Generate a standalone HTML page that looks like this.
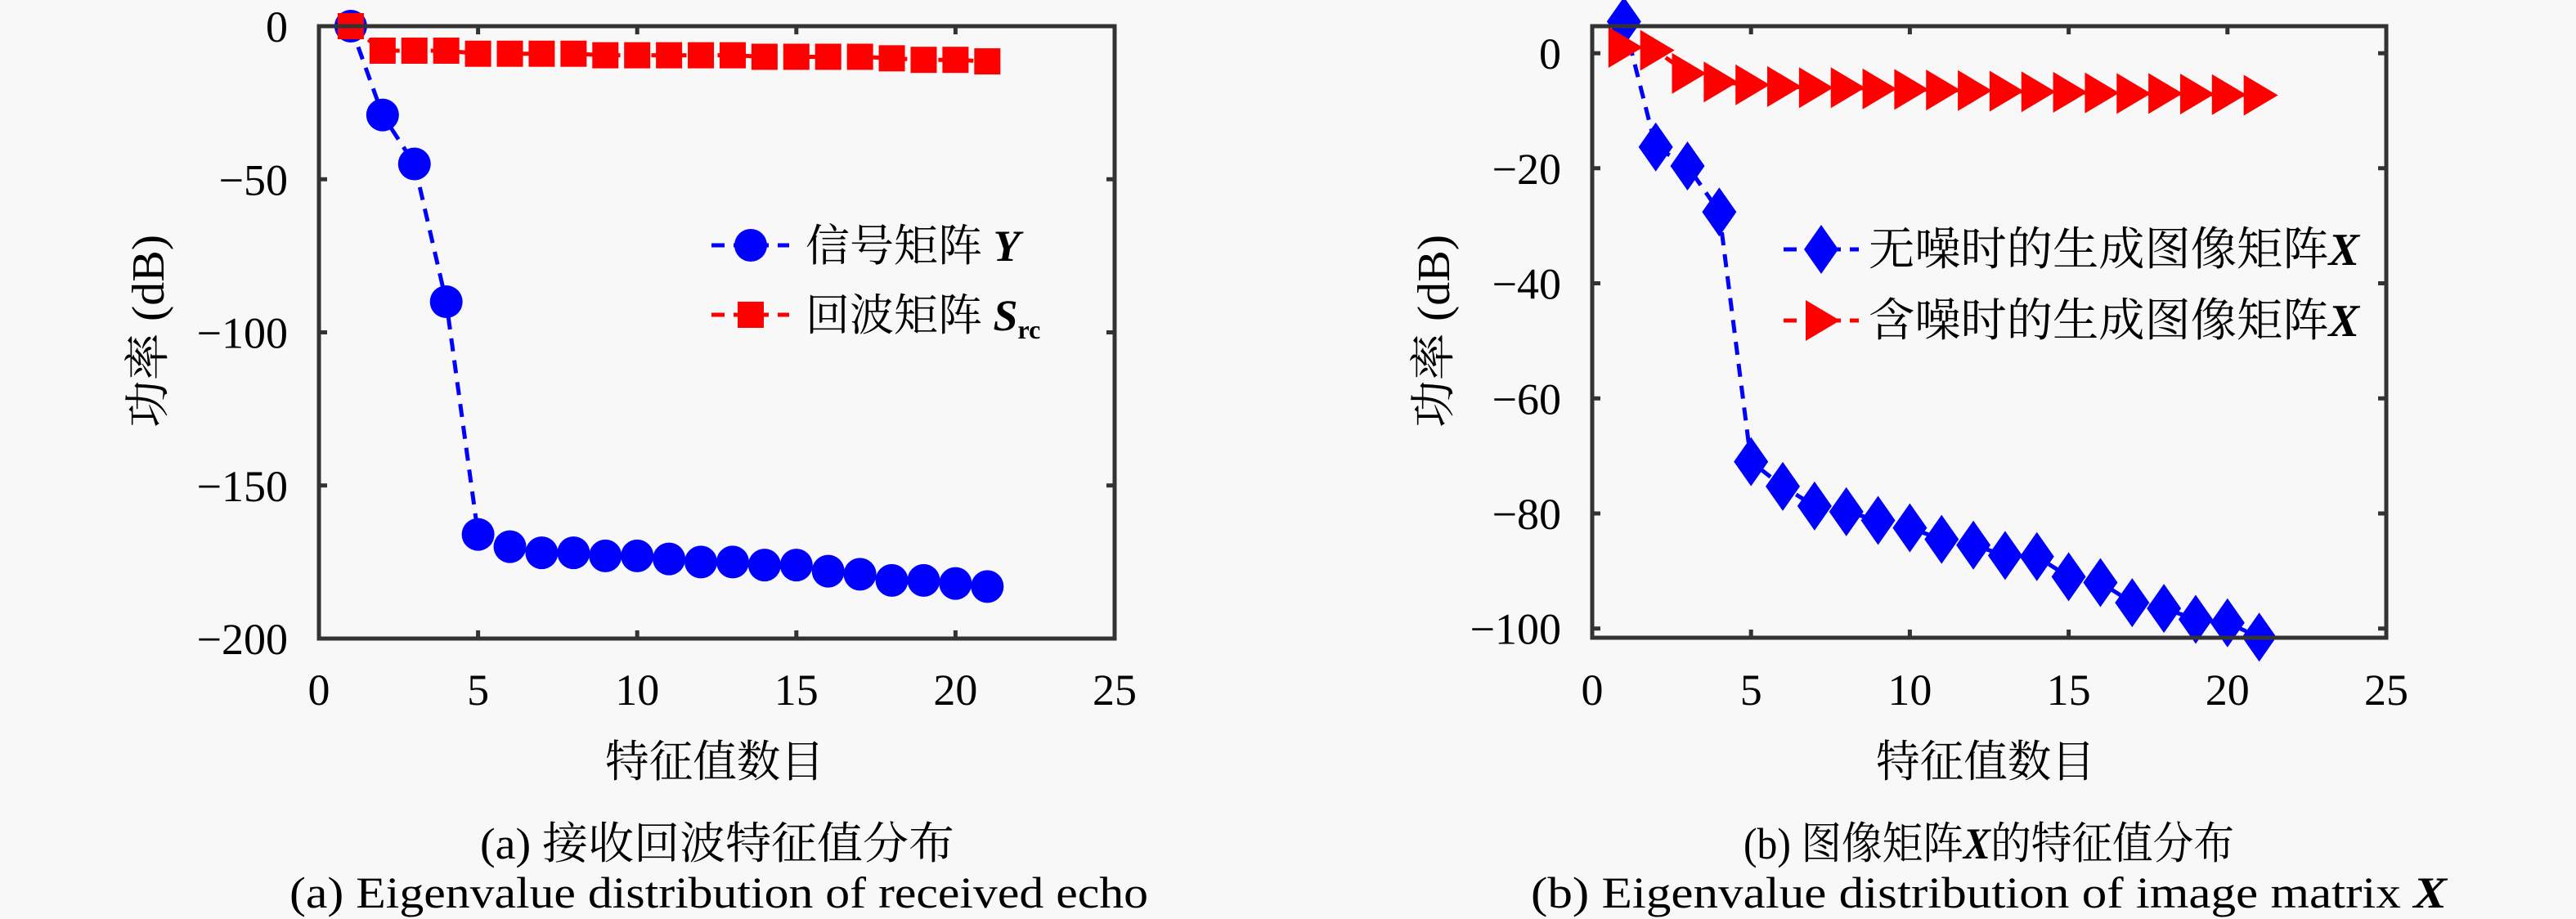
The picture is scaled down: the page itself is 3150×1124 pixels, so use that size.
<!DOCTYPE html>
<html><head><meta charset="utf-8"><style>
html,body{margin:0;padding:0;background:#f8f8f8}
svg{display:block}
text{font-family:"Liberation Serif","Noto Serif CJK SC",serif;fill:#000}
</style></head><body>
<svg id="s" width="3150" height="1124" viewBox="0 0 3150 1124" xmlns="http://www.w3.org/2000/svg">
<rect width="3150" height="1124" fill="#f8f8f8"/>
<g>
 <g>
  <line x1="870" y1="300" x2="965" y2="300" stroke="#0000ff" stroke-width="5" stroke-dasharray="16 11"/>
  <circle cx="918" cy="300" r="20" fill="#0000ff"/>
  <text x="985" y="319" font-size="54">信号矩阵 <tspan font-weight="bold" font-style="italic">Y</tspan></text>
 </g>
 <g>
  <line x1="870" y1="385" x2="965" y2="385" stroke="#ff0000" stroke-width="5" stroke-dasharray="16 11"/>
  <rect x="902" y="369" width="32" height="32" fill="#ff0000"/>
  <text x="985" y="404" font-size="54">回波矩阵 <tspan font-weight="bold" font-style="italic">S</tspan><tspan font-weight="bold" font-size="32" dy="10">rc</tspan></text>
 </g>
</g>
<g>
 <g>
  <line x1="2181" y1="305" x2="2273" y2="305" stroke="#0000ff" stroke-width="5" stroke-dasharray="16 11"/>
  <polygon points="2227,275 2248,305 2227,335 2206,305" fill="#0000ff"/>
  <text x="2285" y="324" font-size="56" textLength="600" lengthAdjust="spacingAndGlyphs">无噪时的生成图像矩阵<tspan font-weight="bold" font-style="italic">X</tspan></text>
 </g>
 <g>
  <line x1="2181" y1="392" x2="2273" y2="392" stroke="#ff0000" stroke-width="5" stroke-dasharray="16 11"/>
  <polygon points="2208,367 2250,392 2208,417" fill="#ff0000"/>
  <text x="2285" y="411" font-size="56" textLength="600" lengthAdjust="spacingAndGlyphs">含噪时的生成图像矩阵<tspan font-weight="bold" font-style="italic">X</tspan></text>
 </g>
</g>
<text transform="translate(200,405) rotate(-90)" font-size="56" text-anchor="middle" textLength="236" lengthAdjust="spacingAndGlyphs">功率 (dB)</text>
<text transform="translate(1772,405) rotate(-90)" font-size="56" text-anchor="middle" textLength="236" lengthAdjust="spacingAndGlyphs">功率 (dB)</text>
<text x="874" y="950" font-size="54" text-anchor="middle" textLength="268" lengthAdjust="spacingAndGlyphs">特征值数目</text>
<text x="2428" y="950" font-size="54" text-anchor="middle" textLength="268" lengthAdjust="spacingAndGlyphs">特征值数目</text>
<text x="877" y="1050" font-size="54" text-anchor="middle" textLength="580" lengthAdjust="spacingAndGlyphs">(a) 接收回波特征值分布</text>
<text x="879" y="1110" font-size="54" text-anchor="middle" textLength="1050" lengthAdjust="spacingAndGlyphs">(a) Eigenvalue distribution of received echo</text>
<text x="2432" y="1050" font-size="54" text-anchor="middle" textLength="600" lengthAdjust="spacingAndGlyphs">(b) 图像矩阵<tspan font-weight="bold" font-style="italic">X</tspan>的特征值分布</text>
<text x="2432" y="1110" font-size="54" text-anchor="middle" textLength="1120" lengthAdjust="spacingAndGlyphs">(b) Eigenvalue distribution of image matrix <tspan font-weight="bold" font-style="italic">X</tspan></text>
</svg>
<script>
// Panel (a)
const xsA = [1,2,3,4,5,6,7,8,9,10,11,12,13,14,15,16,17,18,19,20,21];
const sigY = [0,-29,-45,-90,-166,-170,-172,-172,-173,-173,-174,-175,-175,-176,-176,-178,-179,-181,-181,-182,-183];
const echoS = [0,-8,-8,-8,-9,-9,-9,-9,-9.5,-9.5,-9.5,-9.5,-9.5,-10,-10,-10,-10,-10.5,-11,-11,-11.5];
const xTicks = [0,5,10,15,20,25];
const yTicksA = [0,-50,-100,-150,-200];
const yTickLabelsA = ['0','\u221250','\u2212100','\u2212150','\u2212200'];
// Panel (b)
const xsB = [1,2,3,4,5,6,7,8,9,10,11,12,13,14,15,16,17,18,19,20,21];
const cleanX = [5.5,-16.3,-19.6,-27.6,-71,-75.3,-78.7,-79.7,-81.2,-82.5,-84.5,-85.5,-87.3,-87.5,-91,-92,-95.5,-96.5,-98.4,-99,-101.5];
const noisyX = [1,0.5,-3.5,-5,-5.5,-5.8,-6,-6,-6.2,-6.3,-6.4,-6.5,-6.6,-6.7,-6.8,-6.9,-7,-7,-7.1,-7.2,-7.3];
const yTicksB = [0,-20,-40,-60,-80,-100];
const yTickLabelsB = ['0','\u221220','\u221240','\u221260','\u221280','\u2212100'];

const NS='http://www.w3.org/2000/svg';
const svg=document.getElementById('s');
function mk(tag,attrs,parent){const e=document.createElementNS(NS,tag);for(const k in attrs)e.setAttribute(k,attrs[k]);(parent||svg).appendChild(e);return e;}

function panel(cfg){
  const g=mk('g',{});
  
  
  const sx=v=>cfg.L+(v-0)/(25-0)*(cfg.R-cfg.L);
  const sy=v=>cfg.T+(cfg.ymax-v)/(cfg.ymax-cfg.ymin)*(cfg.B-cfg.T);
  xTicks.forEach(t=>{
    const x=sx(t);
    const tk=mk('path',{d:`M${x},${cfg.B}v-10M${x},${cfg.T}v10`,stroke:'#333','stroke-width':5},g);
    
    
    const lb=mk('text',{x:x,y:862,'font-size':54,'text-anchor':'middle'},g);
    lb.textContent=t;
    
    
  });
  cfg.yt.forEach((t,i)=>{
    const y=sy(t);
    const tk=mk('path',{d:`M${cfg.L},${y}h10M${cfg.R},${y}h-10`,stroke:'#333','stroke-width':5},g);
    
    
    const lb=mk('text',{x:cfg.L-38,y:y+19,'font-size':54,'text-anchor':'end'},g);
    lb.textContent=cfg.ytl[i];
    
    
  });
  cfg.series.forEach(s=>{
    const pts=s.xs.map((x,i)=>sx(x)+','+sy(s.ys[i])).join(' ');
    const pl=mk('polyline',{points:pts,fill:'none',stroke:s.color,'stroke-width':5,'stroke-dasharray':'16 11'},g);
    
    
    s.xs.forEach((x,i)=>{
      const m=marker(s.marker,sx(x),sy(s.ys[i]),s.color,g);
      
      
    });
  });
  const fr=mk('rect',{x:cfg.L,y:cfg.T,width:cfg.R-cfg.L,height:cfg.B-cfg.T,fill:'none',stroke:'#333','stroke-width':5},g);
  
  
  return g;
}
function marker(type,x,y,c,g){
  if(type==='circle')return mk('circle',{cx:x,cy:y,r:20,fill:c},g);
  if(type==='square')return mk('rect',{x:x-16,y:y-16,width:32,height:32,fill:c},g);
  if(type==='diamond')return mk('polygon',{points:`${x},${y-30} ${x+21},${y} ${x},${y+30} ${x-21},${y}`,fill:c},g);
  return mk('polygon',{points:`${x-19},${y-25} ${x+23},${y} ${x-19},${y+25}`,fill:c},g);
}

panel({name:'chart-a',L:390,R:1363,T:32,B:781,ymax:0,ymin:-200,yt:yTicksA,ytl:yTickLabelsA,
  series:[{name:'signal-matrix-y',xs:xsA,ys:sigY,color:'#0000ff',marker:'circle'},
          {name:'echo-matrix-src',xs:xsA,ys:echoS,color:'#ff0000',marker:'square'}]});
panel({name:'chart-b',L:1947,R:2918,T:32,B:780,ymax:4.7,ymin:-101.6,yt:yTicksB,ytl:yTickLabelsB,
  series:[{name:'clean-image-matrix',xs:xsB,ys:cleanX,color:'#0000ff',marker:'diamond'},
          {name:'noisy-image-matrix',xs:xsB,ys:noisyX,color:'#ff0000',marker:'triangle'}]});
</script>
</body></html>
